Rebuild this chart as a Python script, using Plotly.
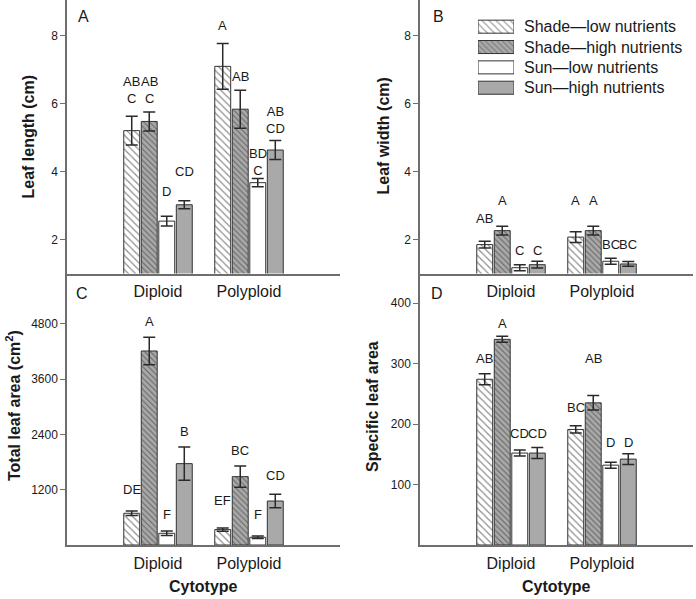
import plotly.graph_objects as go

# ---------------- data ----------------
cytotypes = ["Diploid", "Polyploid"]
series_names = ["Shade\u2014low nutrients", "Shade\u2014high nutrients",
                "Sun\u2014low nutrients", "Sun\u2014high nutrients"]

# each row = one series, values for [Diploid, Polyploid]
leaf_length_mean = [[5.20, 7.09], [5.47, 5.83], [2.54, 3.67], [3.02, 4.63]]
leaf_length_se = [[0.42, 0.67], [0.28, 0.56], [0.14, 0.12], [0.12, 0.28]]
leaf_length_letters = [["AB<br>C", "A"], ["AB<br>C", "AB"], ["D", "BD<br>C"], ["CD", "AB<br>CD"]]
leaf_length_letter_y = [[6.40, 8.28], [6.40, 6.78], [3.40, 4.29], [4.01, 5.51]]

leaf_width_mean = [[1.85, 2.07], [2.26, 2.26], [1.17, 1.36], [1.26, 1.28]]
leaf_width_se = [[0.10, 0.16], [0.13, 0.13], [0.09, 0.09], [0.10, 0.07]]
leaf_width_letters = [["AB", "A"], ["A", "A"], ["C", "BC"], ["C", "BC"]]
leaf_width_letter_y = [[2.61, 3.15], [3.15, 3.15], [1.69, 1.84], [1.69, 1.84]]

total_area_mean = [[688, 334], [4208, 1483], [254, 167], [1765, 954]]
total_area_se = [[50, 35], [297, 231], [50, 28], [360, 146]]
total_area_letters = [["DE", "EF"], ["A", "BC"], ["F", "F"], ["B", "CD"]]
total_area_letter_y = [[1208, 970], [4852, 2054], [659, 659], [2466, 1518]]

sla_mean = [[274, 191], [340, 235], [152, 132], [152, 142]]
sla_se = [[9, 6], [5, 12], [5, 5], [9, 9]]
sla_letters = [["AB", "BC"], ["A", "AB"], ["CD", "D"], ["CD", "D"]]
sla_letter_y = [[308, 228], [366, 308], [184, 169], [184, 169]]

y_titles = ["Leaf length (cm)", "Leaf width (cm)",
            "Total leaf area (cm<sup>2</sup>)", "Specific leaf area"]
panel_labels = ["A", "B", "C", "D"]
x_title = "Cytotype"

# ---------------- styles ----------------
FONT = "Liberation Sans, Arial, sans-serif"
TXT = "#1a1a1a"
AXC = "#6e6e6e"
GRAY = "#a9a9a9"
W, H = 696, 599
BARGAP, GROUPGAP = 0.23, 0.09

styles = [
    dict(color="white", pattern=dict(shape="\\", size=5, solidity=0.25, fgcolor="#222", fillmode="overlay")),
    dict(color=GRAY, pattern=dict(shape="\\", size=4, solidity=0.28, fgcolor="#222", fillmode="overlay")),
    dict(color="white"),
    dict(color=GRAY),
]

panels = [
    (leaf_length_mean, leaf_length_se, leaf_length_letters, leaf_length_letter_y),
    (leaf_width_mean, leaf_width_se, leaf_width_letters, leaf_width_letter_y),
    (total_area_mean, total_area_se, total_area_letters, total_area_letter_y),
    (sla_mean, sla_se, sla_letters, sla_letter_y),
]

x_domains = [[67 / W, 340 / W], [420 / W, 693 / W]]
y_domains = [[1 - 273.5 / H, 1.0], [1 - 545 / H, 1 - 274 / H]]
y_ranges = [[1, 9.04], [1, 9.04], [0, 5878], [0, 448]]
y_ticks = [[2, 4, 6, 8], [2, 4, 6, 8], [1200, 2400, 3600, 4800], [100, 200, 300, 400]]

fig = go.Figure()
annotations = []

for p, (means, ses, letters, letter_y) in enumerate(panels):
    ax = "" if p == 0 else str(p + 1)
    for k, name in enumerate(series_names):
        st = styles[k]
        fig.add_trace(go.Bar(
            x=cytotypes, y=means[k], name=name, showlegend=False,
            xaxis="x" + ax, yaxis="y" + ax, offsetgroup=str(k),
            marker=dict(color=st["color"], line=dict(color="#333", width=1),
                        pattern=st.get("pattern", dict(shape=""))),
            error_y=dict(type="data", array=ses[k], color="#2a2a2a", thickness=1.5, width=6),
        ))
        slot = (1 - BARGAP) / 4
        for g in range(len(cytotypes)):
            annotations.append(dict(
                x=g + (k - 1.5) * slot, y=letter_y[k][g], xref="x" + ax, yref="y" + ax,
                text=letters[k][g], showarrow=False, yanchor="middle", xanchor="center",
                font=dict(family=FONT, size=13, color=TXT)))

layout = dict(
    width=W, height=H, margin=dict(l=0, r=0, t=0, b=0),
    paper_bgcolor="white", plot_bgcolor="white",
    barmode="group", bargap=BARGAP, bargroupgap=GROUPGAP,
    font=dict(family=FONT, color=TXT),
    showlegend=False,
)

for p in range(4):
    ax = "" if p == 0 else str(p + 1)
    col, row = p % 2, p // 2
    layout["xaxis" + ax] = dict(
        domain=x_domains[col], anchor="y" + ax, type="category", range=[-1, 2],
        showline=True, linecolor=AXC, linewidth=1.5, ticks="", showgrid=False,
        ticklabelstandoff=3,
        tickfont=dict(family=FONT, size=16, color=TXT), zeroline=False)
    layout["yaxis" + ax] = dict(
        domain=y_domains[row], anchor="x" + ax, range=y_ranges[p], tickvals=y_ticks[p],
        showline=True, linecolor=AXC, linewidth=1.5, ticks="outside", ticklen=5,
        tickcolor=AXC, tickwidth=1, showgrid=False, zeroline=False,
        tickfont=dict(family=FONT, size=12, color=TXT))

# legend drawn with swatch bars on a hidden axis
fig.add_trace(go.Bar(
    y=list(range(len(series_names))), x=[1] * len(series_names), orientation="h",
    xaxis="x5", yaxis="y5", width=0.64, showlegend=False, hoverinfo="skip",
    marker=dict(color=[s["color"] for s in styles],
                line=dict(color="#333", width=1),
                pattern=dict(shape=["\\", "\\", "", ""], size=[5, 4, 5, 5],
                             solidity=0.25, fgcolor="#222", fillmode="overlay")),
))
layout["xaxis5"] = dict(domain=[478 / W, 514 / W], range=[0, 1], visible=False, anchor="y5")
layout["yaxis5"] = dict(domain=[1 - 97.9 / H, 1 - 16.5 / H], range=[3.5, -0.5], visible=False, anchor="x5")
for k, name in enumerate(series_names):
    annotations.append(dict(x=1, y=k, xref="x5", yref="y5", xshift=8, text=name,
                            showarrow=False, xanchor="left", yanchor="middle",
                            font=dict(family=FONT, size=16, color=TXT)))

# axis titles
title_pos = [(28, 136.5), (383, 136.5), (13, 406), (373, 407)]
for p, (tx, ty) in enumerate(title_pos):
    annotations.append(dict(x=tx / W, y=1 - ty / H, xref="paper", yref="paper",
                            text="<b>" + y_titles[p] + "</b>", textangle=-90, showarrow=False,
                            xanchor="center", yanchor="middle",
                            font=dict(family=FONT, size=16, color=TXT)))
for cx in [203.5, 556.5]:
    annotations.append(dict(x=cx / W, y=1 - 586.7 / H, xref="paper", yref="paper",
                            text="<b>" + x_title + "</b>", showarrow=False,
                            xanchor="center", yanchor="middle",
                            font=dict(family=FONT, size=16, color=TXT)))

# panel letters
letter_pos = [(83, 16.7), (438, 16.7), (82, 293.3), (437, 293.3)]
for p, (lx, ly) in enumerate(letter_pos):
    annotations.append(dict(x=lx / W, y=1 - ly / H, xref="paper", yref="paper",
                            text=panel_labels[p], showarrow=False,
                            xanchor="center", yanchor="middle",
                            font=dict(family=FONT, size=16, color=TXT)))

layout["annotations"] = annotations
fig.update_layout(**layout)
fig.write_html("out.html", config={"displayModeBar": False},
               post_script="document.body.style.margin='0';document.body.style.overflow='hidden';")
